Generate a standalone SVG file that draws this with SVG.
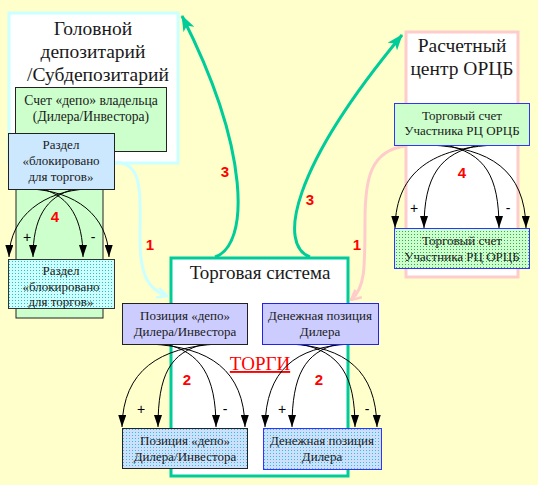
<svg xmlns="http://www.w3.org/2000/svg" width="538" height="485" viewBox="0 0 538 485">
<defs>
<style>
.t{font-family:"Liberation Serif","Times New Roman",serif;fill:#1a1a1a;text-anchor:middle}
.big{font-size:19.5px}
.sm{font-size:13px}
.num{font-family:"Liberation Sans",Arial,sans-serif;font-weight:bold;font-size:15px;fill:#FF0000;text-anchor:middle}
.pm{font-family:"Liberation Sans",Arial,sans-serif;font-size:14px;fill:#000;text-anchor:middle}
.bk{fill:none;stroke:#000;stroke-width:1}
.thick{fill:none;stroke:#00CC99;stroke-width:3}
</style>
<pattern id="pC" width="3" height="3" patternUnits="userSpaceOnUse"><rect width="3" height="3" fill="#CCFFFF"/><rect width="1" height="1" fill="#33BBBB"/></pattern>
<pattern id="pB" width="3" height="3" patternUnits="userSpaceOnUse"><rect width="3" height="3" fill="#CCE0FA"/><rect width="1" height="1" fill="#33BBEE"/></pattern>
<pattern id="pG" width="3" height="3" patternUnits="userSpaceOnUse"><rect width="3" height="3" fill="#CCFFCC"/><rect width="1" height="1" fill="#33AA55"/></pattern>
<marker id="ah" viewBox="0 0 12 8" refX="12" refY="4" markerWidth="12" markerHeight="8" markerUnits="userSpaceOnUse" orient="auto"><path d="M0,0 L12,4 L0,8 z" fill="#000"/></marker>
<marker id="ag" viewBox="0 0 16 12" refX="15" refY="6" markerWidth="16" markerHeight="12" markerUnits="userSpaceOnUse" orient="auto"><path d="M0,0 L16,6 L0,12 L4,6 z" fill="#00CC99"/></marker>
<marker id="ac" viewBox="0 0 12 12" refX="11" refY="6" markerWidth="12" markerHeight="12" markerUnits="userSpaceOnUse" orient="auto"><path d="M1,1 L11,6 L1,11" fill="none" stroke="#CCFFFF" stroke-width="2.5"/></marker>
<marker id="ap" viewBox="0 0 12 12" refX="11" refY="6" markerWidth="12" markerHeight="12" markerUnits="userSpaceOnUse" orient="auto"><path d="M1,1 L11,6 L1,11" fill="none" stroke="#FFCCCC" stroke-width="2.5"/></marker>
</defs>
<rect x="0" y="0" width="538" height="485" fill="#FFFFCC"/>

<g id="depository">
<rect x="9" y="13" width="169" height="150" fill="#FFFFFF" stroke="#CCFFFF" stroke-width="3"/>
<text class="t big" x="93" y="35">Головной</text>
<text class="t big" x="93" y="58">депозитарий</text>
<text class="t big" x="98" y="81">/Субдепозитарий</text>
</g>
<g id="depo-account">
<rect x="16" y="140" width="87" height="178" fill="#CCFFCC" stroke="#222" stroke-width="1"/>
<rect x="15.5" y="87.5" width="151" height="64" fill="#CCFFCC" stroke="#222" stroke-width="1"/>
<text class="t" x="91" y="105" style="font-size:13.6px">Счет «депо» владельца</text>
<text class="t" x="91" y="121" style="font-size:13.6px">(Дилера/Инвестора)</text>
</g>

<g id="settlement">
<rect x="406" y="32" width="112" height="245" fill="#FFFFFF" stroke="#FFCCCC" stroke-width="3"/>
<text class="t big" x="462" y="52">Расчетный</text>
<text class="t big" x="462" y="75">центр ОРЦБ</text>
</g>

<g id="trading-system">
<rect x="171" y="258" width="177" height="218" fill="#FFFFFF" stroke="#00CC99" stroke-width="3"/>
<text class="t" x="260" y="279" style="font-size:19px">Торговая система</text>
<text class="t" x="260" y="370" style="font-size:19px;fill:#FF0000;text-decoration:underline">ТОРГИ</text>
</g>

<g id="connectors">
<path class="thick" d="M215,257 C250,245 250,150 182,16" marker-end="url(#ag)"/>
<path class="thick" d="M310,257 C278,245 290,170 402,35" marker-end="url(#ag)"/>
<path d="M114,163 C145,160 140,200 140,240 C140,278 150,290 167,296" fill="none" stroke="#CCFFFF" stroke-width="3" marker-end="url(#ac)"/>
<path d="M406,146 C370,150 365,180 365,220 C365,270 365,288 351,300" fill="none" stroke="#FFCCCC" stroke-width="3" marker-end="url(#ap)"/>

<path class="bk" d="M87,189 C45,191 10,215 9,257" marker-end="url(#ah)"/>
<path class="bk" d="M75,189 C45,196 33,220 33,257" marker-end="url(#ah)"/>
<path class="bk" d="M42,189 C70,196 83,220 83,257" marker-end="url(#ah)"/>
<path class="bk" d="M30,189 C75,191 108,215 109,257" marker-end="url(#ah)"/>

<path class="bk" d="M218,344 C160,347 123,370 122,427" marker-end="url(#ah)"/>
<path class="bk" d="M205,344 C170,352 158,375 158,427" marker-end="url(#ah)"/>
<path class="bk" d="M165,344 C200,352 216,375 216,427" marker-end="url(#ah)"/>
<path class="bk" d="M150,344 C210,347 244,370 245,427" marker-end="url(#ah)"/>

<path class="bk" d="M350,344 C295,347 266,370 265,427" marker-end="url(#ah)"/>
<path class="bk" d="M338,344 C305,352 292,375 292,427" marker-end="url(#ah)"/>
<path class="bk" d="M300,344 C340,352 355,375 355,427" marker-end="url(#ah)"/>
<path class="bk" d="M290,344 C345,347 376,370 377,427" marker-end="url(#ah)"/>

<path class="bk" d="M495,145 C435,148 396,170 395,228" marker-end="url(#ah)"/>
<path class="bk" d="M480,145 C440,153 424,176 424,228" marker-end="url(#ah)"/>
<path class="bk" d="M445,145 C485,153 499,176 499,228" marker-end="url(#ah)"/>
<path class="bk" d="M430,145 C490,148 525,170 526,228" marker-end="url(#ah)"/>

<text class="num" x="225" y="177">3</text>
<text class="num" x="310" y="205">3</text>
<text class="num" x="150" y="250">1</text>
<text class="num" x="357" y="250">1</text>
<text class="num" x="55" y="222">4</text>
<text class="num" x="462" y="178">4</text>
<text class="num" x="187" y="385">2</text>
<text class="num" x="319" y="385">2</text>
<text class="pm" x="27" y="242">+</text>
<text class="pm" x="93" y="242">-</text>
<text class="pm" x="414" y="213">+</text>
<text class="pm" x="508" y="213">-</text>
<text class="pm" x="141" y="414">+</text>
<text class="pm" x="225" y="414">-</text>
<text class="pm" x="282" y="414">+</text>
<text class="pm" x="367" y="414">-</text>
</g>

<g id="blocked-upper">
<rect x="8.5" y="133.5" width="106" height="56" fill="#CCE8FF" stroke="#222" stroke-width="1"/>
<text class="t sm" x="61" y="149">Раздел</text>
<text class="t sm" x="61" y="165">«блокировано</text>
<text class="t sm" x="61" y="181">для торгов»</text>
</g>
<g id="blocked-lower">
<rect x="8.5" y="259.5" width="106" height="49" fill="url(#pC)" stroke="#333" stroke-width="1"/>
<text class="t sm" x="61" y="275">Раздел</text>
<text class="t sm" x="61" y="291">«блокировано</text>
<text class="t sm" x="61" y="306">для торгов»</text>
</g>

<g id="trade-account-upper">
<rect x="394.5" y="103.5" width="135" height="42" fill="#CCFFCC" stroke="#3333FF" stroke-width="1"/>
<text class="t sm" x="462" y="120">Торговый счет</text>
<text class="t sm" x="462" y="135">Участника РЦ ОРЦБ</text>
</g>
<g id="trade-account-lower">
<rect x="394.5" y="228.5" width="135" height="40" fill="url(#pG)" stroke="#3333FF" stroke-width="1"/>
<text class="t sm" x="462" y="245">Торговый счет</text>
<text class="t sm" x="462" y="261">Участника РЦ ОРЦБ</text>
</g>

<g id="depo-position-upper">
<rect x="122.5" y="303.5" width="125" height="41" fill="#CCCCFF" stroke="#222" stroke-width="1"/>
<text class="t sm" x="185" y="320">Позиция «депо»</text>
<text class="t sm" x="185" y="336">Дилера/Инвестора</text>
</g>
<g id="depo-position-lower">
<rect x="122.5" y="428.5" width="125" height="40" fill="url(#pB)" stroke="#222" stroke-width="1"/>
<text class="t sm" x="185" y="445">Позиция «депо»</text>
<text class="t sm" x="185" y="461">Дилера/Инвестора</text>
</g>

<g id="cash-position-upper">
<rect x="262.5" y="303.5" width="116" height="41" fill="#CCCCFF" stroke="#2222EE" stroke-width="1"/>
<text class="t sm" x="320" y="320">Денежная позиция</text>
<text class="t sm" x="320" y="336">Дилера</text>
</g>
<g id="cash-position-lower">
<rect x="263.5" y="428.5" width="118" height="41" fill="url(#pB)" stroke="#3333FF" stroke-width="1"/>
<text class="t sm" x="322" y="445">Денежная позиция</text>
<text class="t sm" x="322" y="461">Дилера</text>
</g>
</svg>
